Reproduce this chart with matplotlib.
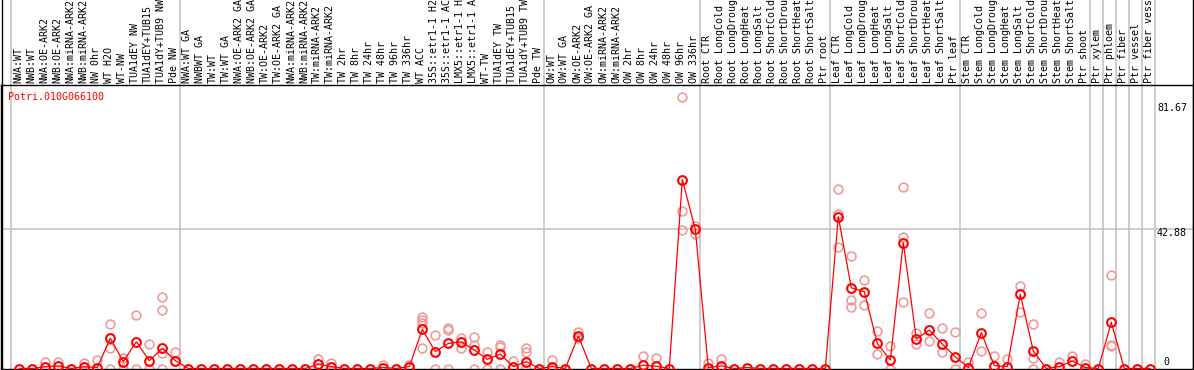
import matplotlib
matplotlib.use("Agg")
import matplotlib.pyplot as plt
import matplotlib.transforms as mtransforms
from matplotlib.lines import Line2D

plt.rcParams['font.family'] = ['DejaVu Sans Mono']

# column labels (one per sample)
labels = [
    "NWA:WT", "NWB:WT", "NWA:OE-ARK2", "NWB:OE-ARK2", "NWA:miRNA-ARK2", "NWB:miRNA-ARK2",
    "NW 0hr", "WT H2O", "WT-NW", "TUA1dEY NW", "TUA1dEY+TUB15", "TUA1dY+TUB9 NW", "Pde NW",
    "NWA:WT GA", "NWBWT GA", "TW:WT", "TW:WT GA", "NWA:OE-ARK2 GA", "NWB:OE-ARK2 GA",
    "TW:OE-ARK2", "TW:OE-ARK2 GA", "NWA:miRNA-ARK2", "NWB:miRNA-ARK2", "TW:miRNA-ARK2",
    "TW:miRNA-ARK2 GA", "TW 2hr", "TW 8hr", "TW 24hr", "TW 48hr", "TW 96hr", "TW 336hr",
    "WT ACC", "35S::etr1-1 H2O", "35S::etr1-1 ACC", "LMX5::etr1-1 H2O", "LMX5::etr1-1 ACC",
    "WT-TW", "TUA1dEY TW", "TUA1dEY+TUB15 TW", "TUA1dY+TUB9 TW", "Pde TW",
    "OW:WT", "OW:WT GA", "OW:OE-ARK2", "OW:OE-ARK2 GA", "OW:miRNA-ARK2", "OW:miRNA-ARK2",
    "OW 2hr", "OW 8hr", "OW 24hr", "OW 48hr", "OW 96hr", "OW 336hr",
    "Root CTR", "Root LongCold", "Root LongDrought", "Root LongHeat", "Root LongSalt",
    "Root ShortCold", "Root ShortDrought", "Root ShortHeat", "Root ShortSalt", "Ptr root",
    "Leaf CTR", "Leaf LongCold", "Leaf LongDrought", "Leaf LongHeat", "Leaf LongSalt",
    "Leaf ShortCold", "Leaf ShortDrought", "Leaf ShortHeat", "Leaf ShortSalt", "Ptr leaf",
    "Stem CTR", "Stem LongCold", "Stem LongDrought", "Stem LongHeat", "Stem LongSalt",
    "Stem ShortCold", "Stem ShortDrought", "Stem ShortHeat", "Stem ShortSalt", "Ptr shoot",
    "Ptr xylem", "Ptr phloem", "Ptr fiber", "Ptr vessel", "Ptr fiber vessel",
]

# mean expression per column
means = [
    0, 0, 0.55, 0.8, 0, 0.55, 0.3, 9.3, 2.1, 8.2, 2.4, 6.2, 2.4,
    0, 0, 0, 0, 0, 0, 0, 0, 0, 0, 1.3, 0.6, 0, 0, 0, 0.3, 0, 0.6,
    12.0, 5.2, 7.7, 8.2, 5.7, 2.8, 4.4, 0.6, 2.1, 0,
    0.6, 0, 10.0, 0, 0, 0, 0, 1.0, 0.7, 0, 58.1, 42.8,
    0.3, 0.8, 0, 0.3, 0, 0, 0, 0, 0, 0,
    46.7, 24.8, 23.6, 7.7, 2.6, 38.7, 9.1, 11.8, 7.5, 3.6,
    0.3, 11.0, 0.9, 0.6, 22.8, 5.4, 0, 0.6, 2.3, 0.3,
    0, 14.2, 0, 0, 0,
]

# individual replicates: column index and value
rep_col = [2, 3, 5, 6, 7, 7, 7, 8, 8, 9, 9, 10, 10, 11, 11, 11, 11, 12,
           23, 24, 28, 30, 31, 31, 31, 31, 32, 32, 33, 33, 33, 34, 34, 35, 35, 35,
           36, 36, 37, 37, 37, 38, 39, 39, 39, 41, 43, 43, 48, 49,
           51, 51, 51, 52, 52, 53, 54,
           63, 63, 63, 64, 64, 64, 65, 65, 66, 66, 67, 67, 68, 68, 68,
           69, 69, 70, 70, 71, 71, 72, 72,
           73, 74, 74, 75, 76, 77, 77, 78, 78, 78, 80, 81, 82, 84, 84, 84]
rep_val = [2.1, 2.1, 1.8, 2.6, 13.7, 6.4, 0, 3.1, 0, 16.4, 0, 7.5, 0, 21.9, 18.0, 4.7, 0, 5.2,
           2.8, 1.6, 1.0, 1.0, 15.9, 14.9, 14.0, 6.4, 10.3, 0, 12.4, 11.7, 0, 9.3, 6.2, 9.8, 7.2, 0,
           5.2, 0, 7.2, 6.5, 0, 2.4, 6.2, 5.2, 0, 2.6, 11.3, 9.3, 3.8, 3.1,
           83.5, 48.5, 42.6, 43.9, 41.3, 1.8, 2.8,
           55.1, 47.5, 37.3, 34.6, 21.1, 18.8, 27.2, 19.5, 11.5, 4.5, 6.9, 0, 55.9, 40.3, 20.3,
           10.8, 7.4, 17.0, 8.6, 12.4, 5.2, 11.3, 0,
           2.0, 17.0, 5.4, 3.8, 2.8, 25.4, 17.5, 13.7, 3.1, 0, 1.9, 3.8, 1.4, 28.7, 7.2, 6.9]

group_starts = [0, 13, 41, 53, 63, 73, 83, 84, 85, 86, 87, 88]
gene = "Potri.010G066100"

W, H = 1194, 370
fig = plt.figure(figsize=(W / 100, H / 100), dpi=100)
ax = fig.add_axes([1 / W, 1 / H, 1192 / W, 284 / H])

px_col, x0 = 13.0, 19.3
ax.set_xlim((1 - x0) / px_col, (1193 - x0) / px_col)
py = 3.253
ax.set_ylim(-0.5 / py, 283.5 / py)
ax.set_xticks([])
ax.set_yticks([])
for s in ax.spines.values():
    s.set_linewidth(1.0)

# group separators, through the label area as well
for g in group_starts:
    ax.axvline(g - 0.64, ymin=0, ymax=1 + 85 / 284, color="#c0c0c0", lw=1.1,
               clip_on=False, zorder=1)
ax.axhline(42.88, color="#c0c0c0", lw=1.1, zorder=1)

cols = list(range(len(means)))
ax.plot(rep_col, rep_val, "o", ms=6.3, mfc="none", mec="#f09a9a", mew=1.2,
        zorder=2, clip_on=False)
ax.plot(cols, means, "-", color="red", lw=0.9, zorder=3, clip_on=False)
ax.plot(cols, means, "o", ms=6.3, mfc="none", mec="red", mew=1.5,
        zorder=4, clip_on=False)

trans = mtransforms.blended_transform_factory(ax.transData, ax.transAxes)
for i, lab in enumerate(labels):
    ax.text(i - 0.1, 1 + 2 / 284, lab, rotation=90, ha="center", va="bottom",
            fontsize=7.2, transform=trans, clip_on=False)

fig.text(8 / W, 1 - 97 / H, gene, color="red", fontsize=7.2, ha="left", va="center")
fig.text(1157 / W, 1 - 108 / H, "81.67", fontsize=7.2, ha="left", va="center")
fig.text(1157 / W, 1 - 233 / H, "42.88", fontsize=7.2, ha="left", va="center")
fig.text(1163 / W, 1 - 362 / H, "0", fontsize=7.2, ha="left", va="center")

# outer border lines through the label area
fig.add_artist(Line2D([1.5 / W, 1.5 / W], [0, 1], color="black", lw=1.0))
fig.add_artist(Line2D([1192.5 / W, 1192.5 / W], [0, 1], color="black", lw=1.0))

fig.savefig("out.png", dpi=100)
